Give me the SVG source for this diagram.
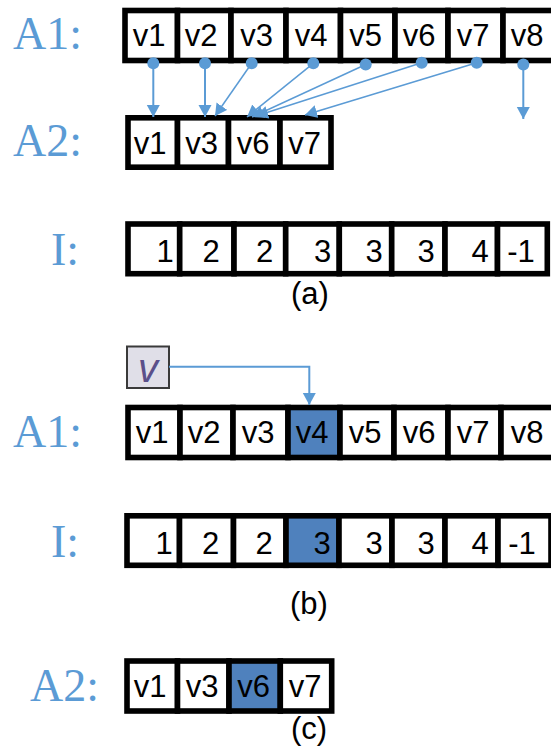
<svg xmlns="http://www.w3.org/2000/svg" width="551" height="748" viewBox="0 0 551 748">
<style>
.cell{fill:#fff;stroke:#000;stroke-width:5.6}
.hl{fill:#4F81BD;stroke:#000;stroke-width:5.6}
.t{font-family:"Liberation Sans",Arial,sans-serif;font-size:31px;fill:#000;text-anchor:middle}
.n{font-family:"Liberation Sans",Arial,sans-serif;font-size:31px;fill:#000;text-anchor:middle}
.lab{font-family:"Liberation Serif","Times New Roman",serif;font-size:46px;fill:#5B9BD5}
.cap{font-family:"Liberation Sans",Arial,sans-serif;font-size:31px;fill:#000;text-anchor:middle}
.con{stroke:#5B9BD5;stroke-width:1.5;fill:none}
.conv{stroke:#5B9BD5;stroke-width:2;fill:none}
</style>
<defs>
<marker id="ah" markerUnits="userSpaceOnUse" markerWidth="14" markerHeight="14" refX="12" refY="6.5" orient="auto"><path d="M0,0 L12,6.5 L0,13 Z" fill="#5B9BD5"/></marker>
<marker id="dot" markerUnits="userSpaceOnUse" markerWidth="14" markerHeight="14" refX="7" refY="7"><circle cx="7" cy="7" r="6" fill="#5B9BD5"/></marker>
</defs>

<!-- (a) A1 -->
<g id="labelA1a"><text class="lab" x="13" y="49">A1:</text></g>
<g id="A1a">
<rect class="cell" x="125" y="10.5" width="52.5" height="50"/>
<rect class="cell" x="177.5" y="10.5" width="53.5" height="50"/>
<rect class="cell" x="231" y="10.5" width="55" height="50"/>
<rect class="cell" x="286" y="10.5" width="54.5" height="50"/>
<rect class="cell" x="340.5" y="10.5" width="54.5" height="50"/>
<rect class="cell" x="395" y="10.5" width="53" height="50"/>
<rect class="cell" x="448" y="10.5" width="55" height="50"/>
<rect class="cell" x="503" y="10.5" width="58" height="50"/>
<text class="t" x="149" y="46">v1</text>
<text class="t" x="201" y="46">v2</text>
<text class="t" x="256.5" y="46">v3</text>
<text class="t" x="311" y="46">v4</text>
<text class="t" x="365.5" y="46">v5</text>
<text class="t" x="419" y="46">v6</text>
<text class="t" x="473" y="46">v7</text>
<text class="t" x="527" y="46">v8</text>
</g>

<!-- (a) A2 -->
<g id="labelA2a"><text class="lab" x="13" y="156">A2:</text></g>
<g id="A2a">
<rect class="cell" x="128" y="117.8" width="49.5" height="49.4"/>
<rect class="cell" x="177.5" y="117.8" width="51" height="49.4"/>
<rect class="cell" x="228.5" y="117.8" width="51.5" height="49.4"/>
<rect class="cell" x="280" y="117.8" width="51" height="49.4"/>
<text class="t" x="150" y="154">v1</text>
<text class="t" x="201.5" y="154">v3</text>
<text class="t" x="253" y="154">v6</text>
<text class="t" x="304.5" y="154">v7</text>
</g>

<!-- (a) I -->
<g id="labelIa"><text class="lab" x="51" y="265">I:</text></g>
<g id="Ia">
<rect class="cell" x="128" y="224" width="51.7" height="49.7"/>
<rect class="cell" x="179.7" y="224" width="54.3" height="49.7"/>
<rect class="cell" x="234" y="224" width="51.7" height="49.7"/>
<rect class="cell" x="285.7" y="224" width="53.6" height="49.7"/>
<rect class="cell" x="339.3" y="224" width="52.4" height="49.7"/>
<rect class="cell" x="391.7" y="224" width="53.3" height="49.7"/>
<rect class="cell" x="445" y="224" width="52.5" height="49.7"/>
<rect class="cell" x="497.5" y="224" width="49.8" height="49.7"/>
<text class="n" x="165" y="262">1</text>
<text class="n" x="211" y="262">2</text>
<text class="n" x="264.5" y="262">2</text>
<text class="n" x="322.5" y="262">3</text>
<text class="n" x="374" y="262">3</text>
<text class="n" x="426" y="262">3</text>
<text class="n" x="480" y="262">4</text>
<text class="n" x="521" y="262">-1</text>
</g>
<g id="capA"><text class="cap" x="310" y="304">(a)</text></g>

<!-- (b) -->
<g id="vbox">
<rect x="127" y="346.5" width="42" height="41.5" fill="#E0DFE8" stroke="#3A3A3A" stroke-width="2"/>
<text x="148" y="381.5" font-family="Liberation Sans,Arial,sans-serif" font-size="40" font-style="italic" fill="#5A4F8A" text-anchor="middle">v</text>
</g>
<g id="labelA1b"><text class="lab" x="13" y="447">A1:</text></g>
<g id="A1b">
<rect class="cell" x="128" y="407.5" width="52" height="50"/>
<rect class="cell" x="180" y="407.5" width="53" height="50"/>
<rect class="cell" x="233" y="407.5" width="55" height="50"/>
<rect class="hl" x="288" y="407.5" width="52" height="50"/>
<rect class="cell" x="340" y="407.5" width="54" height="50"/>
<rect class="cell" x="394" y="407.5" width="54" height="50"/>
<rect class="cell" x="448" y="407.5" width="53" height="50"/>
<rect class="cell" x="501" y="407.5" width="60" height="50"/>
<text class="t" x="152" y="443">v1</text>
<text class="t" x="204" y="443">v2</text>
<text class="t" x="258" y="443">v3</text>
<text class="t" x="312" y="443">v4</text>
<text class="t" x="365" y="443">v5</text>
<text class="t" x="419" y="443">v6</text>
<text class="t" x="473" y="443">v7</text>
<text class="t" x="527" y="443">v8</text>
</g>
<g id="labelIb"><text class="lab" x="51" y="557">I:</text></g>
<g id="Ib">
<rect class="cell" x="127" y="515.8" width="52.5" height="49.5"/>
<rect class="cell" x="179.5" y="515.8" width="54" height="49.5"/>
<rect class="cell" x="233.5" y="515.8" width="52.5" height="49.5"/>
<rect class="hl" x="286" y="515.8" width="53" height="49.5"/>
<rect class="cell" x="339" y="515.8" width="53" height="49.5"/>
<rect class="cell" x="392" y="515.8" width="53" height="49.5"/>
<rect class="cell" x="445" y="515.8" width="53" height="49.5"/>
<rect class="cell" x="498" y="515.8" width="53" height="49.5"/>
<text class="n" x="164" y="554">1</text>
<text class="n" x="210.5" y="554">2</text>
<text class="n" x="264" y="554">2</text>
<text class="n" x="322" y="554">3</text>
<text class="n" x="374" y="554">3</text>
<text class="n" x="426" y="554">3</text>
<text class="n" x="480" y="554">4</text>
<text class="n" x="522" y="554">-1</text>
</g>
<g id="capB"><text class="cap" x="309" y="614">(b)</text></g>

<!-- (c) -->
<g id="labelA2c"><text class="lab" x="30" y="701">A2:</text></g>
<g id="A2c">
<rect class="cell" x="127" y="661" width="50.5" height="50"/>
<rect class="cell" x="177.5" y="661" width="51.5" height="50"/>
<rect class="hl" x="229" y="661" width="51.3" height="50"/>
<rect class="cell" x="280.3" y="661" width="51.4" height="50"/>
<text class="t" x="150" y="697">v1</text>
<text class="t" x="202" y="697">v3</text>
<text class="t" x="253.5" y="697">v6</text>
<text class="t" x="305" y="697">v7</text>
</g>
<g id="capC"><text class="cap" x="309" y="739">(c)</text></g>

<!-- connectors -->
<g id="connectors">
<line class="conv" x1="153.3" y1="63.3" x2="153.3" y2="117" marker-start="url(#dot)" marker-end="url(#ah)"/>
<line class="conv" x1="205" y1="63.3" x2="205" y2="117" marker-start="url(#dot)" marker-end="url(#ah)"/>
<line class="con" x1="251.7" y1="63.3" x2="215" y2="116" marker-start="url(#dot)" marker-end="url(#ah)"/>
<line class="con" x1="313.3" y1="63.3" x2="247" y2="117" marker-start="url(#dot)" marker-end="url(#ah)"/>
<line class="con" x1="365.7" y1="64.5" x2="252" y2="117" marker-start="url(#dot)" marker-end="url(#ah)"/>
<line class="con" x1="421.7" y1="62.7" x2="256" y2="116" marker-start="url(#dot)" marker-end="url(#ah)"/>
<line class="con" x1="476.7" y1="62.7" x2="305" y2="115" marker-start="url(#dot)" marker-end="url(#ah)"/>
<line class="conv" x1="523.3" y1="64.5" x2="523.3" y2="119" marker-start="url(#dot)" marker-end="url(#ah)"/>
<path class="conv" d="M169,366.7 H309.3 V405" marker-end="url(#ah)"/>
</g>
</svg>
